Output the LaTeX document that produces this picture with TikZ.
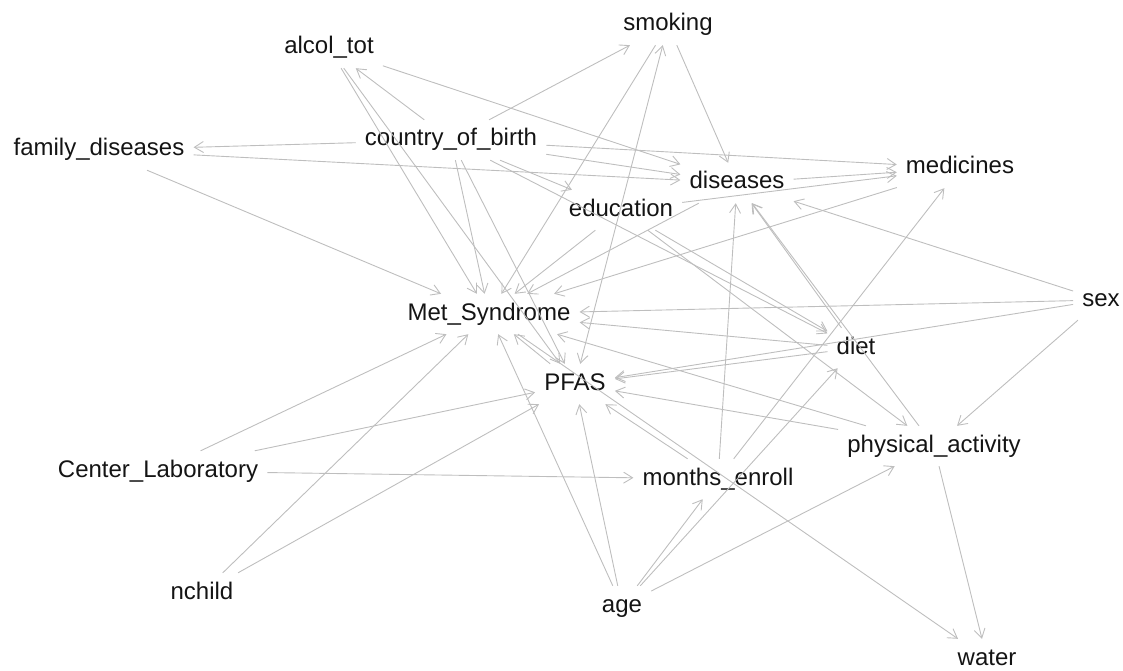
\documentclass[tikz,border=0pt]{standalone}
\usepackage{fontspec}
\setmainfont{Liberation Sans}
\usetikzlibrary{arrows.meta}
\definecolor{edgegray}{RGB}{190,190,190}
\definecolor{labelblack}{RGB}{20,20,20}
\begin{document}
\begin{tikzpicture}[x=1pt,y=-1pt,
  lbl/.style={font=\fontsize{24}{28}\selectfont, text=labelblack, inner xsep=9pt, inner ysep=9pt, text height=17pt, text depth=5pt},
  edge/.style={draw=edgegray, line width=0.9pt, -{Straight Barb[length=9pt,width=11pt,line width=0.9pt]}},
  biedge/.style={draw=edgegray, line width=0.9pt, {Straight Barb[length=9pt,width=11pt,line width=0.9pt]}-{Straight Barb[length=9pt,width=11pt,line width=0.9pt]}}
]
\useasboundingbox (0,0) rectangle (1123,671);
\node[lbl] (smk) at (668,25) {smoking};
\node[lbl] (alc) at (329,48) {alcol\_tot};
\node[lbl] (cob) at (451,140) {country\_of\_birth};
\node[lbl] (fam) at (99,150) {family\_diseases};
\node[lbl] (med) at (960,168) {medicines};
\node[lbl] (dis) at (737,183) {diseases};
\node[lbl] (edu) at (621,210) {education};
\node[lbl] (met) at (489,314) {Met\_Syndrome};
\node[lbl] (sex) at (1101,300) {sex};
\node[lbl] (diet) at (856,348) {diet};
\node[lbl] (pfas) at (575,384) {PFAS};
\node[lbl] (pa) at (934,446) {physical\_activity};
\node[lbl] (cl) at (158,471) {Center\_Laboratory};
\node[lbl] (me) at (718,479) {months\_enroll};
\node[lbl] (nch) at (202,593) {nchild};
\node[lbl] (age) at (622,606) {age};
\node[lbl] (wat) at (987,659) {water};

% country_of_birth
\draw[edge] (cob) -- (fam);
\draw[edge] (cob) -- (alc);
\draw[edge] (cob) -- (smk);
\draw[edge] (cob) -- (dis);
\draw[edge] (cob) -- (med);
\draw[edge] (cob) -- (edu);
\draw[edge] (cob) -- (met);
\draw[edge] (cob) -- (pfas);
\draw[edge] (cob) -- (diet);
% family_diseases
\draw[edge] (fam) -- (dis);
\draw[edge] (fam) -- (met);
% alcol_tot
\draw[edge] (alc) -- (dis);
\draw[edge] (alc) -- (met);
\draw[edge] (alc) -- (pfas);
% smoking
\draw[edge] (smk) -- (dis);
\draw[edge] (smk) -- (met);
\draw[biedge] (smk) -- (pfas);
% education
\draw[edge] (edu) -- (med);
\draw[edge] (edu) -- (met);
\draw[edge] (edu) -- (diet);
\draw[edge] (edu) -- (pa);
% diseases, medicines
\draw[edge] (dis) -- (med);
\draw[edge] (dis) -- (met);
\draw[edge] (med) -- (met);
% months_enroll
\draw[edge] (me) -- (med);
\draw[edge] (me) -- (dis);
\draw[edge] (me) -- (pfas);
% sex
\draw[edge] (sex) -- (dis);
\draw[edge] (sex) -- (met);
\draw[edge] (sex) -- (pfas);
\draw[edge] (sex) -- (pa);
% diet
\draw[edge] (diet) -- (met);
\draw[edge] (diet) -- (pfas);
\draw[edge] (diet) -- (dis);
% physical_activity
\draw[edge] (pa) -- (dis);
\draw[edge] (pa) -- (pfas);
\draw[edge] (pa) -- (wat);
\draw[edge] (pa) -- (met);
% PFAS, Met_Syndrome
\draw[edge] (pfas) -- (met);
\draw[edge] (met) -- (wat);
% Center_Laboratory, nchild
\draw[edge] (cl) -- (met);
\draw[edge] (cl) -- (pfas);
\draw[edge] (cl) -- (me);
\draw[edge] (nch) -- (met);
\draw[edge] (nch) -- (pfas);
% age
\draw[edge] (age) -- (met);
\draw[edge] (age) -- (pfas);
\draw[edge] (age) -- (me);
\draw[edge] (age) -- (diet);
\draw[edge] (age) -- (pa);
\end{tikzpicture}
\end{document}
